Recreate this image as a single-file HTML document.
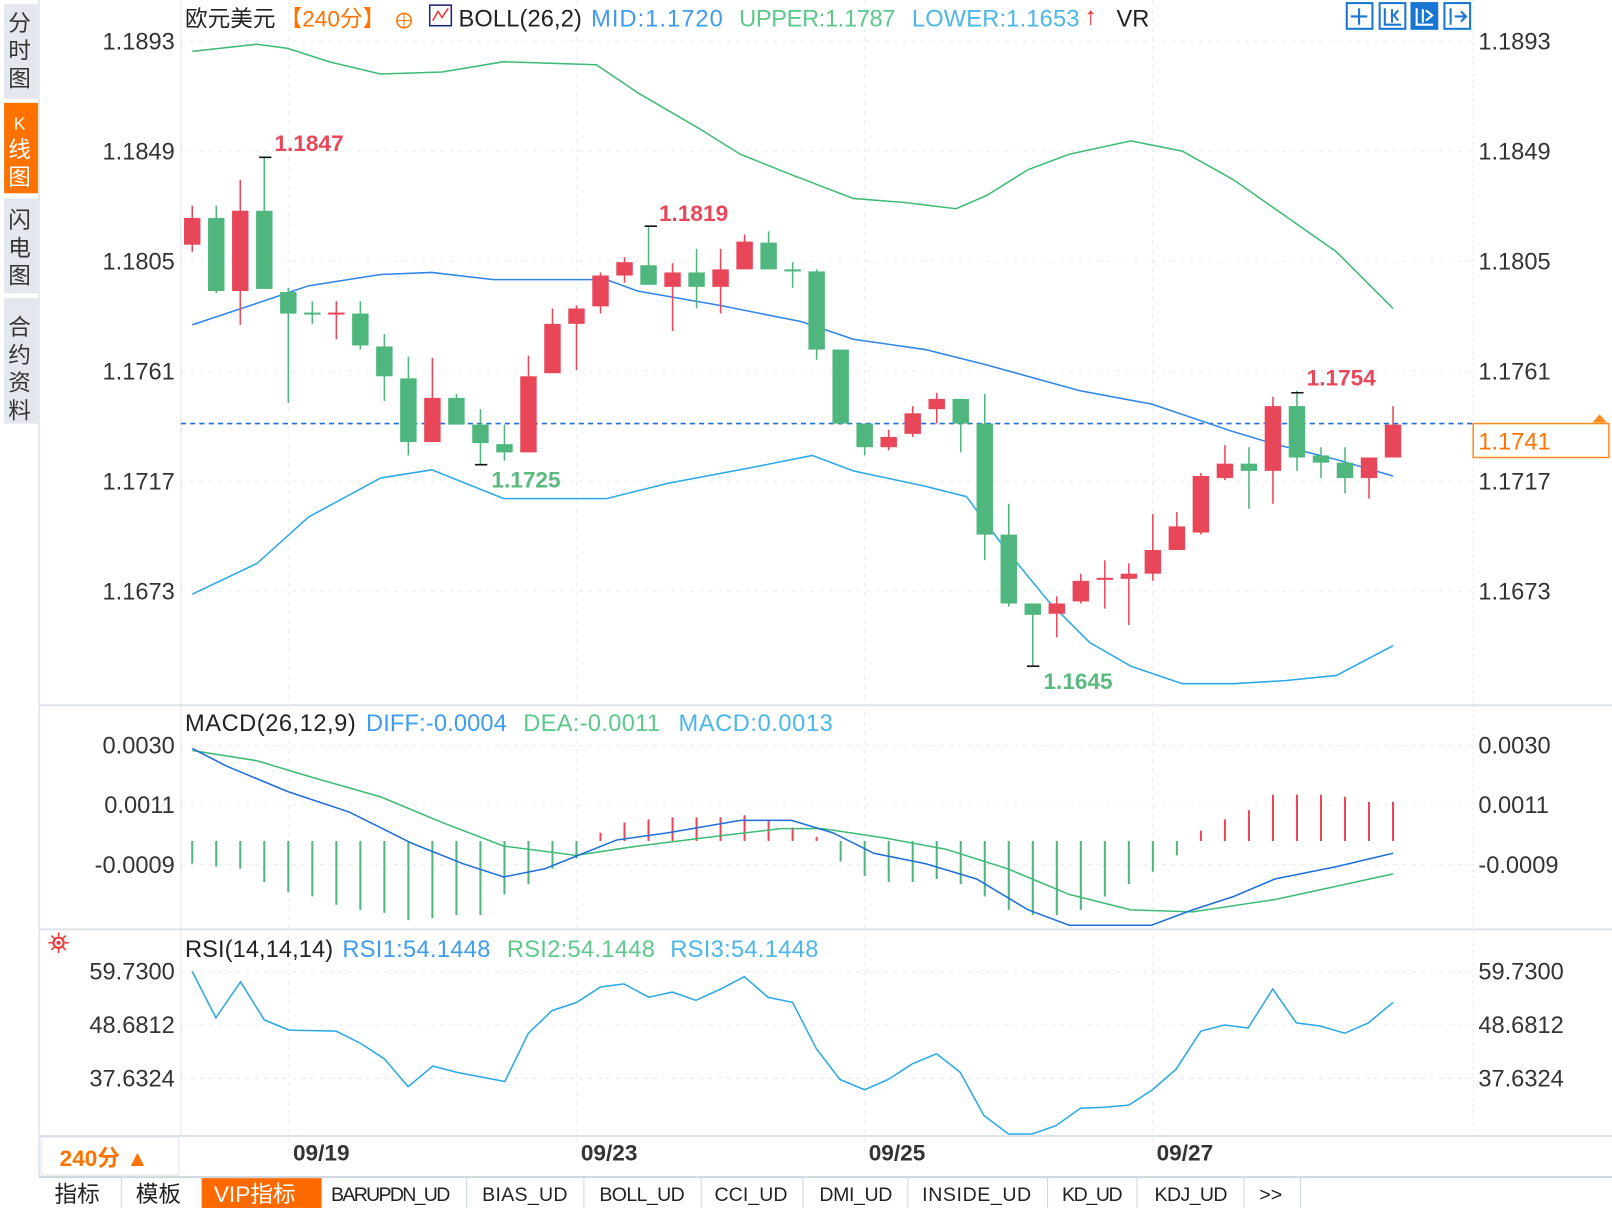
<!DOCTYPE html>
<html><head><meta charset="utf-8"><style>
html,body{margin:0;padding:0;background:#fff;overflow:hidden}
svg{display:block}
text{font-family:"Liberation Sans","Noto Sans CJK SC",sans-serif}
</style></head><body>
<svg id="s" width="1612" height="1208" viewBox="0 0 1568 1175" xmlns="http://www.w3.org/2000/svg">
<rect width="1568" height="1175" fill="#fff"/>
<rect x="0" y="0" width="38" height="1175" fill="#fff"/>
<rect x="4" y="4" width="33" height="92" fill="#e4e7ee"/>
<rect x="4" y="100" width="33" height="88" fill="#ff7200"/>
<rect x="4" y="193" width="33" height="92" fill="#e4e7ee"/>
<rect x="4" y="290" width="33" height="122" fill="#e4e7ee"/>
<g font-size="22" text-anchor="middle" fill="#333">
<text x="19" y="30">分</text><text x="19" y="57">时</text><text x="19" y="84">图</text>
<text x="19" y="126" fill="#fff" font-size="17">K</text><text x="19" y="153" fill="#fff">线</text><text x="19" y="180" fill="#fff">图</text>
<text x="19" y="222">闪</text><text x="19" y="249">电</text><text x="19" y="276">图</text>
<text x="19" y="326">合</text><text x="19" y="353">约</text><text x="19" y="380">资</text><text x="19" y="407">料</text>
</g>
<line x1="38" y1="0" x2="38" y2="1145" stroke="#cfd6df"/>
<line x1="176" y1="0" x2="176" y2="1105" stroke="#dde3ea"/>
<line x1="1433" y1="0" x2="1433" y2="1105" stroke="#dde3ea" stroke-dasharray="2,4"/>
<line x1="38" y1="686" x2="1568" y2="686" stroke="#dde3ea" stroke-width="2"/>
<line x1="38" y1="904" x2="1568" y2="904" stroke="#dde3ea" stroke-width="2"/>
<line x1="38" y1="1105" x2="1568" y2="1105" stroke="#dde3ea" stroke-width="2"/>
<g stroke="#e8ecf0" stroke-dasharray="4,5">
<line x1="176" y1="40" x2="1433" y2="40"/><line x1="176" y1="147" x2="1433" y2="147"/><line x1="176" y1="254" x2="1433" y2="254"/><line x1="176" y1="361" x2="1433" y2="361"/><line x1="176" y1="468" x2="1433" y2="468"/><line x1="176" y1="575" x2="1433" y2="575"/>
<line x1="176" y1="725" x2="1433" y2="725"/><line x1="176" y1="783" x2="1433" y2="783"/><line x1="176" y1="841" x2="1433" y2="841"/>
<line x1="176" y1="945" x2="1433" y2="945"/><line x1="176" y1="997" x2="1433" y2="997"/><line x1="176" y1="1049" x2="1433" y2="1049"/>
<line x1="281" y1="0" x2="281" y2="1125"/><line x1="561" y1="0" x2="561" y2="1125"/><line x1="841" y1="0" x2="841" y2="1125"/><line x1="1121" y1="0" x2="1121" y2="1125"/>
</g>
<g font-size="23" fill="#333" text-anchor="end">
<text x="170" y="48">1.1893</text><text x="170" y="155">1.1849</text><text x="170" y="262">1.1805</text><text x="170" y="369">1.1761</text><text x="170" y="476">1.1717</text><text x="170" y="583">1.1673</text>
<text x="170" y="733">0.0030</text><text x="170" y="791">0.0011</text><text x="170" y="849">-0.0009</text>
<text x="170" y="953">59.7300</text><text x="170" y="1005">48.6812</text><text x="170" y="1057">37.6324</text>
</g>
<g font-size="23" fill="#333">
<text x="1438" y="48">1.1893</text><text x="1438" y="155">1.1849</text><text x="1438" y="262">1.1805</text><text x="1438" y="369">1.1761</text><text x="1438" y="476">1.1717</text><text x="1438" y="583">1.1673</text>
<text x="1438" y="733">0.0030</text><text x="1438" y="791">0.0011</text><text x="1438" y="849">-0.0009</text>
<text x="1438" y="953">59.7300</text><text x="1438" y="1005">48.6812</text><text x="1438" y="1057">37.6324</text>
</g>
<text x="180" y="26" font-size="22" fill="#222">欧元美元</text>
<text x="272" y="26" font-size="22" fill="#ff7200">【240分】</text>
<circle cx="393" cy="20" r="7" fill="none" stroke="#ff7200" stroke-width="1.5"/><line x1="386" y1="20" x2="400" y2="20" stroke="#ff7200"/><line x1="393" y1="13" x2="393" y2="27" stroke="#ff7200"/>
<rect x="418" y="5" width="21" height="20" fill="#fff" stroke="#1a237e" stroke-width="1.5"/><polyline points="421,20 426,11 430,17 436,8" fill="none" stroke="#e33" stroke-width="1.5"/>
<text x="446" y="26" font-size="23" fill="#222" textLength="120">BOLL(26,2)</text>
<text x="575" y="26" font-size="23" fill="#3d9cf0" textLength="128">MID:1.1720</text>
<text x="719" y="26" font-size="23" fill="#5cc98a" textLength="152">UPPER:1.1787</text>
<text x="887" y="26" font-size="23" fill="#4bb6e8" textLength="163">LOWER:1.1653</text>
<text x="1055" y="24" font-size="24" fill="#e33" font-weight="bold">↑</text>
<text x="1086" y="26" font-size="23" fill="#222">VR</text>
<g fill="none" stroke="#1976d2" stroke-width="2">
<rect x="1310" y="3" width="25" height="25"/><rect x="1342" y="3" width="25" height="25"/><rect x="1373" y="3" width="25" height="25" fill="#1976d2"/><rect x="1405" y="3" width="25" height="25"/>
<path d="M1322 8v16M1314 16h16"/><path d="M1347 8v16h16M1354 9v13M1360 10l-4 5 4 5"/><path d="M1378 8v16h16M1384 9v13M1387 10l6 5-6 5" stroke="#fff"/><path d="M1411 8v16M1415 16h11M1421 11l5 5-5 5"/>
</g>
<text x="180" y="711" font-size="23" fill="#222" textLength="166">MACD(26,12,9)</text>
<text x="356" y="711" font-size="23" fill="#3d9cf0" textLength="137">DIFF:-0.0004</text>
<text x="509" y="711" font-size="23" fill="#5cc98a" textLength="133">DEA:-0.0011</text>
<text x="660" y="711" font-size="23" fill="#4bb6e8" textLength="150">MACD:0.0013</text>
<text x="180" y="931" font-size="23" fill="#222" textLength="144">RSI(14,14,14)</text>
<text x="333" y="931" font-size="23" fill="#3d9cf0" textLength="144">RSI1:54.1448</text>
<text x="493" y="931" font-size="23" fill="#5cc98a" textLength="144">RSI2:54.1448</text>
<text x="652" y="931" font-size="23" fill="#4bb6e8" textLength="144">RSI3:54.1448</text>
<circle cx="57" cy="917" r="5" fill="none" stroke="#e33" stroke-width="2"/><circle cx="57" cy="917" r="2" fill="#e33"/>
<g stroke="#e33" stroke-width="1.5"><path d="M47 917h4M63 917h4M57 907v4M57 923v4M50 910l3 3M64 910l-3 3M50 924l3-3M64 924l-3-3"/></g>
<line x1="176" y1="412" x2="1433" y2="412" stroke="#1e6fd9" stroke-width="1.5" stroke-dasharray="5,4"/>
<rect x="1433" y="412" width="132" height="33" fill="#fff" stroke="#ff8c1a" stroke-width="1.5"/>
<text x="1438" y="437" font-size="23" fill="#ff7200">1.1741</text>
<path d="M1549 411l7-8 7 8z" fill="#ff8c1a"/>
<g fill="none" stroke-width="1.5">
<polyline stroke="#3dbb74" points="187,50 250,43 280,47 320,60 370,72 430,70 490,60 580,63 620,90 680,125 720,150 770,170 830,193 880,197 930,203 960,190 1000,165 1040,150 1100,137 1150,147 1200,175 1250,210 1300,245 1355,300"/>
<polyline stroke="#2f86e8" points="187,316 250,295 300,278 370,267 420,265 480,272 590,272 620,283 700,297 780,313 830,330 900,340 960,355 1050,380 1120,393 1200,420 1240,432 1300,447 1355,463"/>
<polyline stroke="#2aa8e8" points="187,578 250,548 300,503 370,465 420,457 490,485 590,485 650,470 730,455 790,443 830,458 900,473 940,483 975,530 1020,585 1060,625 1100,648 1150,665 1200,665 1250,662 1300,657 1355,628"/>
</g>
<g id="candles"></g>
<g id="hist"></g>
<g stroke="#111" stroke-width="1.5"><path d="M252 153h12M627 220h12M999 648h12M1256 382h12M462 452h12"/></g>
<g font-size="22" font-weight="bold">
<text x="267" y="147" fill="#e8475a">1.1847</text><text x="641" y="215" fill="#e8475a">1.1819</text><text x="1271" y="375" fill="#e8475a">1.1754</text>
<text x="478" y="474" fill="#5aba7e">1.1725</text><text x="1015" y="670" fill="#5aba7e">1.1645</text>
</g>
<g fill="none" stroke-width="1.5">
<polyline stroke="#3dbb74" points="187,730 250,740 300,755 370,775 430,800 490,823 560,832 620,823 700,813 760,806 800,806 860,815 920,826 980,845 1040,870 1100,885 1160,887 1240,875 1300,862 1355,850"/>
<polyline stroke="#1e6fd9" points="187,728 220,745 280,770 340,790 400,820 450,840 490,853 530,845 560,833 600,817 650,810 720,798 770,798 810,810 850,830 900,840 950,855 1000,885 1040,900 1120,900 1160,885 1200,872 1240,855 1300,843 1355,830"/>
</g>
<polyline fill="none" stroke="#2aa8e8" stroke-width="1.5" points="187,945 210,990 234,955 257,992 281,1002 327,1003 351,1015 374,1030 397,1057 421,1037 444,1043 491,1052 514,1005 537,983 561,975 584,960 607,957 631,970 654,965 677,973 701,962 724,950 747,970 771,975 794,1020 817,1050 841,1060 864,1050 887,1035 911,1025 934,1043 957,1085 981,1103 1004,1103 1027,1095 1051,1078 1074,1077 1098,1075 1121,1060 1144,1040 1168,1003 1191,997 1214,1000 1238,962 1261,995 1284,998 1308,1005 1331,995 1355,975"/>
<rect x="40" y="1106" width="134" height="37" fill="#fff" stroke="#dde3ea"/>
<text x="58" y="1134" font-size="22" fill="#ff7200" font-weight="bold">240分 ▲</text>
<g font-size="22" fill="#333" font-weight="bold"><text x="285" y="1129">09/19</text><text x="565" y="1129">09/23</text><text x="845" y="1129">09/25</text><text x="1125" y="1129">09/27</text></g>
<line x1="38" y1="1145" x2="1568" y2="1145" stroke="#cfd6df" stroke-width="2"/>
<rect x="196" y="1146" width="117" height="29" fill="#ff6a00"/>
<g stroke="#cfd6df"><path d="M118 1146v29M196 1146v29M313 1146v29M454 1146v29M568 1146v29M682 1146v29M781 1146v29M883 1146v29M1019 1146v29M1106 1146v29M1210 1146v29M1265 1146v29"/></g>
<g font-size="22" fill="#222" font-family="Liberation Mono,'Noto Sans CJK SC',monospace">
<text x="53" y="1169">指标</text><text x="132" y="1169">模板</text><text x="208" y="1169" fill="#fff">VIP指标</text>
<text x="322" y="1168" font-size="19" textLength="116">BARUPDN_UD</text><text x="469" y="1168" font-size="19" textLength="83">BIAS_UD</text><text x="583" y="1168" font-size="19" textLength="83">BOLL_UD</text><text x="695" y="1168" font-size="19" textLength="71">CCI_UD</text><text x="797" y="1168" font-size="19" textLength="71">DMI_UD</text><text x="897" y="1168" font-size="19" textLength="106">INSIDE_UD</text><text x="1033" y="1168" font-size="19" textLength="59">KD_UD</text><text x="1123" y="1168" font-size="19" textLength="71">KDJ_UD</text><text x="1225" y="1168" font-size="19">&gt;&gt;</text>
</g>
</svg>
<script>
var C=[[212,238,200,245,1],[212,283,200,285,0],[205,283,175,316,1],[205,281,153,281,0],[284,305,280,392,0],[304,306,293,315,0],[304,306,293,330,1],[305,336,293,340,0],[337,366,325,390,0],[368,430,347,443,0],[387,430,348,430,1],[387,413,383,413,0],[413,431,398,452,0],[432,440,413,448,0],[366,440,346,440,1],[315,363,300,363,1],[300,315,297,360,1],[268,298,265,305,1],[255,268,250,275,1],[258,277,220,277,0],[265,279,256,322,1],[265,279,242,300,0],[262,279,242,305,1],[235,262,228,262,1],[236,262,225,262,0],[262,264,255,280,0],[264,340,262,350,0],[340,412,340,413,0],[412,435,412,443,0],[425,435,418,438,1],[402,422,395,425,1],[388,398,382,412,1],[388,412,388,440,0],[412,520,383,545,0],[520,587,490,590,0],[587,598,587,648,0],[587,597,580,620,1],[565,585,558,587,1],[562,564,545,592,1],[558,563,548,608,1],[535,558,500,565,1],[512,535,498,535,1],[463,518,460,520,1],[451,465,433,467,1],[451,458,435,495,0],[395,458,386,490,1],[395,445,380,458,0],[443,450,435,465,0],[450,465,435,480,0],[445,465,445,485,1],[413,445,395,445,1]];
var H=[840,843,845,858,868,872,880,885,888,895,893,890,890,870,860,845,835,810,800,797,795,795,795,793,798,805,814,838,852,858,858,855,860,872,885,890,890,885,872,860,848,832,808,797,788,773,773,773,775,780,780];
var ns="http://www.w3.org/2000/svg",g=document.getElementById("candles"),h=document.getElementById("hist");
function el(p,t,a){var e=document.createElementNS(ns,t);for(var k in a)e.setAttribute(k,a[k]);p.appendChild(e);}
for(var i=0;i<C.length;i++){var x=187+i*23.36,c=C[i],col=c[4]?"#e8475a":"#4fb77d";
el(g,"line",{x1:x,x2:x,y1:c[2],y2:c[3],stroke:col,"stroke-width":1.5});
el(g,"rect",{x:x-8,y:c[0],width:16,height:Math.max(2,c[1]-c[0]),fill:col});
var v=H[i],z=818;el(h,"line",{x1:x,x2:x,y1:Math.min(v,z),y2:Math.max(v,z),stroke:v<z?"#e8475a":"#4fb77d","stroke-width":2});}
</script>
</body></html>
